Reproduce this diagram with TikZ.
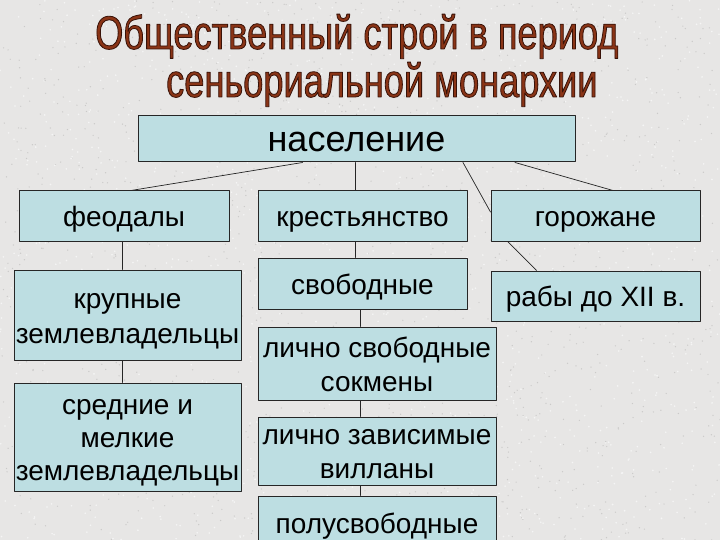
\documentclass[tikz,border=0pt]{standalone}
\usepackage{fontspec}
\setmainfont{Liberation Sans}
\newfontfamily\titlefont[FakeStretch=0.77]{Liberation Sans}
\definecolor{bgcol}{RGB}{231,230,229}
\definecolor{boxcol}{RGB}{189,222,226}
\definecolor{titlecol}{RGB}{138,52,22}
% outlined title letters: fill in titlecol, stroke dark brown
\newcommand\outlined[1]{\special{pdf:literal direct 0.22 0.07 0.03 RG 0.8 w 2 Tr}#1\special{pdf:literal direct 0 Tr}}
% struts so that text sits like the slide's
\newcommand\boxtext[1]{\rule{0pt}{27pt}#1\rule[-6pt]{0pt}{6pt}}
\begin{document}
\begin{tikzpicture}[x=1pt, y=-1pt, line join=round, line cap=round,
	box/.style={draw=black!85, fill=boxcol, line width=1pt, inner sep=0pt, align=center,
		font=\fontsize{28}{34}\selectfont},
	link/.style={draw=black!85, line width=0.7pt},
	heading/.style={anchor=base west, inner sep=0pt, text=titlecol, font=\titlefont\fontsize{47}{56}\selectfont}]
	\fill[bgcol] (0,0) rectangle (720,540);
	\clip (0,0) rectangle (720,540);
	\pgfmathsetseed{7}
	\foreach \i in {1,...,1400}{
		\fill[white!60!bgcol] (rnd*720,rnd*540) circle (0.9);
		\fill[black!12!bgcol] (rnd*720,rnd*540) circle (0.7);}
	% title
	\node[heading] (t1) at (95,49) {\outlined{Общественный строй в период}};
	\node[heading] (t2) at (166,97) {\outlined{сеньориальной монархии}};
	% chart
	\node[box, minimum width=437, minimum height=46, font=\fontsize{36}{42}\selectfont] (nas) at (356.5,139) {\rule{0pt}{33pt}население\rule[-7pt]{0pt}{7pt}};
	\node[box, minimum width=210, minimum height=50] (feo) at (124,216) {\boxtext{феодалы}};
	\node[box, minimum width=209, minimum height=50] (kre) at (362.5,216) {\boxtext{крестьянство}};
	\node[box, minimum width=209, minimum height=50] (gor) at (595.5,216) {\boxtext{горожане}};
	\node[box, minimum width=227, minimum height=90, font=\fontsize{28}{35}\selectfont] (krup) at (127.5,315) {\boxtext{крупные\\землевладельцы}};
	\node[box, minimum width=227, minimum height=108, font=\fontsize{28}{33}\selectfont] (sred) at (127.5,437) {\boxtext{средние и\\мелкие\\землевладельцы}};
	\node[box, minimum width=209, minimum height=51] (svob) at (362.5,283.5) {\boxtext{свободные}};
	\node[box, minimum width=238, minimum height=73] (sok) at (377,363.5) {\boxtext{лично свободные\\сокмены}};
	\node[box, minimum width=238, minimum height=68] (vil) at (377,451) {\boxtext{лично зависимые\\вилланы}};
	\node[box, minimum width=238, minimum height=54] (polu) at (377,523) {\boxtext{полусвободные}};
	\node[box, minimum width=209, minimum height=50] (rab) at (595.5,296) {\boxtext{рабы до XII в.}};
	% links
	\draw[link] ([xshift=-54pt]nas.south) -- ([xshift=7pt]feo.north);
	\draw[link] ([xshift=-1.5pt]nas.south) -- ([xshift=-7.5pt]kre.north);
	\draw[link] ([xshift=158.5pt]nas.south) -- ([xshift=17.5pt]gor.north);
	\draw[link] ([xshift=106.5pt]nas.south) -- ([yshift=4pt]gor.west);
	\draw[link] ([xshift=17pt]gor.south west) -- ([xshift=46pt]rab.north west);
	\draw[link] ([xshift=-2pt]feo.south) -- ([xshift=-5.5pt]krup.north);
	\draw[link] ([xshift=-5.5pt]krup.south) -- ([xshift=-5.5pt]sred.north);
	\draw[link] ([xshift=-7.5pt]kre.south) -- ([xshift=-7.5pt]svob.north);
	\draw[link] ([xshift=-2.5pt]svob.south) -- ([xshift=-17pt]sok.north);
	\foreach \a/\b in {sok/vil, vil/polu}
		\draw[link] ([xshift=-17pt]\a.south) -- ([xshift=-17pt]\b.north);
\end{tikzpicture}
\end{document}
